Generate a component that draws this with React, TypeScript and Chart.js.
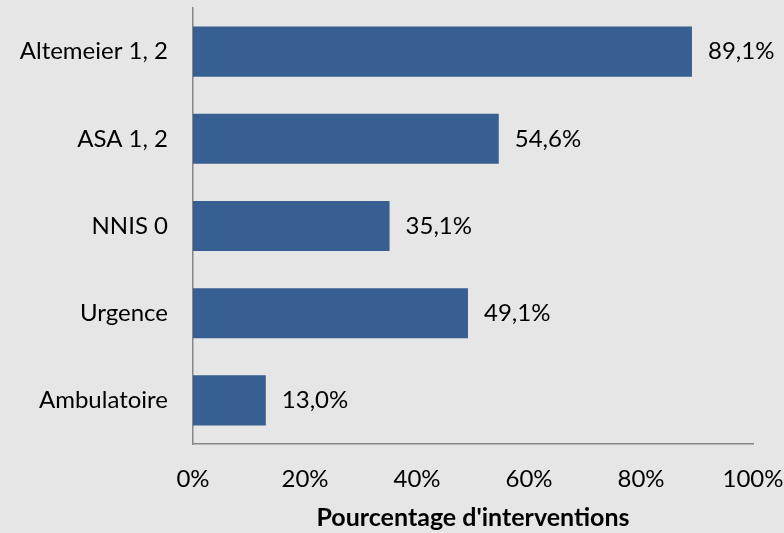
import React, { useEffect, useRef } from "react";
import { Chart, registerables } from "chart.js";

Chart.register(...registerables);

const categories: string[] = ["Altemeier 1, 2", "ASA 1, 2", "NNIS 0", "Urgence", "Ambulatoire"];
const values: number[] = [89.1, 54.6, 35.1, 49.1, 13.0];
const valueLabels: string[] = ["89,1%", "54,6%", "35,1%", "49,1%", "13,0%"];
const xTicks: number[] = [0, 20, 40, 60, 80, 100];
const axisTitle = "Pourcentage d'interventions";

const FONT = "Lato, 'Open Sans', sans-serif";

const valueLabelPlugin = {
  id: "valueLabels",
  afterDatasetsDraw(chart: any) {
    const ctx = chart.ctx;
    const meta = chart.getDatasetMeta(0);
    ctx.save();
    ctx.font = `24px ${FONT}`;
    ctx.fillStyle = "#000000";
    ctx.textAlign = "left";
    ctx.textBaseline = "middle";
    meta.data.forEach((bar: any, i: number) => {
      ctx.fillText(valueLabels[i], bar.x + 16, bar.y);
    });
    ctx.restore();
  },
};

export default function App() {
  const ref = useRef<HTMLCanvasElement | null>(null);
  useEffect(() => {
    if (!ref.current) return;
    const chart = new Chart(ref.current, {
      type: "bar",
      data: {
        labels: categories,
        datasets: [
          {
            data: values,
            backgroundColor: "#375f91",
            borderWidth: 0,
            barPercentage: 0.575,
            categoryPercentage: 1,
          },
        ],
      },
      options: {
        indexAxis: "y",
        animation: false,
        responsive: false,
        maintainAspectRatio: false,
        layout: { padding: { top: 8, right: 31, bottom: 0, left: 0 } },
        plugins: {
          legend: { display: false },
          tooltip: { enabled: false },
        },
        scales: {
          x: {
            min: 0,
            max: 100,
            afterBuildTicks(axis: any) {
              axis.ticks = xTicks.map((v) => ({ value: v }));
            },
            afterFit(axis: any) {
              axis.height = 89;
              axis.paddingLeft = 0;
              axis.paddingRight = 0;
              axis.paddingTop = 0;
              axis.paddingBottom = 0;
            },
            grid: { display: false, drawTicks: false },
            border: { display: true, color: "#868686", width: 1.5 },
            ticks: {
              padding: 21,
              color: "#000000",
              font: { family: FONT, size: 24 },
              maxRotation: 0,
              callback: (v: any) => `${v}%`,
            },
            title: {
              display: true,
              text: axisTitle,
              color: "#000000",
              font: { family: FONT, size: 25, weight: "bold" },
              padding: { top: 0, bottom: 0 },
            },
          },
          y: {
            afterFit(axis: any) {
              axis.width = 193;
              axis.paddingLeft = 0;
              axis.paddingRight = 0;
              axis.paddingTop = 0;
              axis.paddingBottom = 0;
            },
            grid: { display: false, drawTicks: false },
            border: { display: true, color: "#868686", width: 1.5 },
            ticks: {
              padding: 25,
              color: "#000000",
              font: { family: FONT, size: 24 },
            },
          },
        },
      },
      plugins: [valueLabelPlugin],
    });
    return () => chart.destroy();
  }, []);
  return (
    <div style={{ position: "fixed", left: 0, top: 0, width: 784, height: 533, background: "#e6e6e6" }}>
      <canvas ref={ref} width={784} height={533} style={{ display: "block" }} />
    </div>
  );
}
